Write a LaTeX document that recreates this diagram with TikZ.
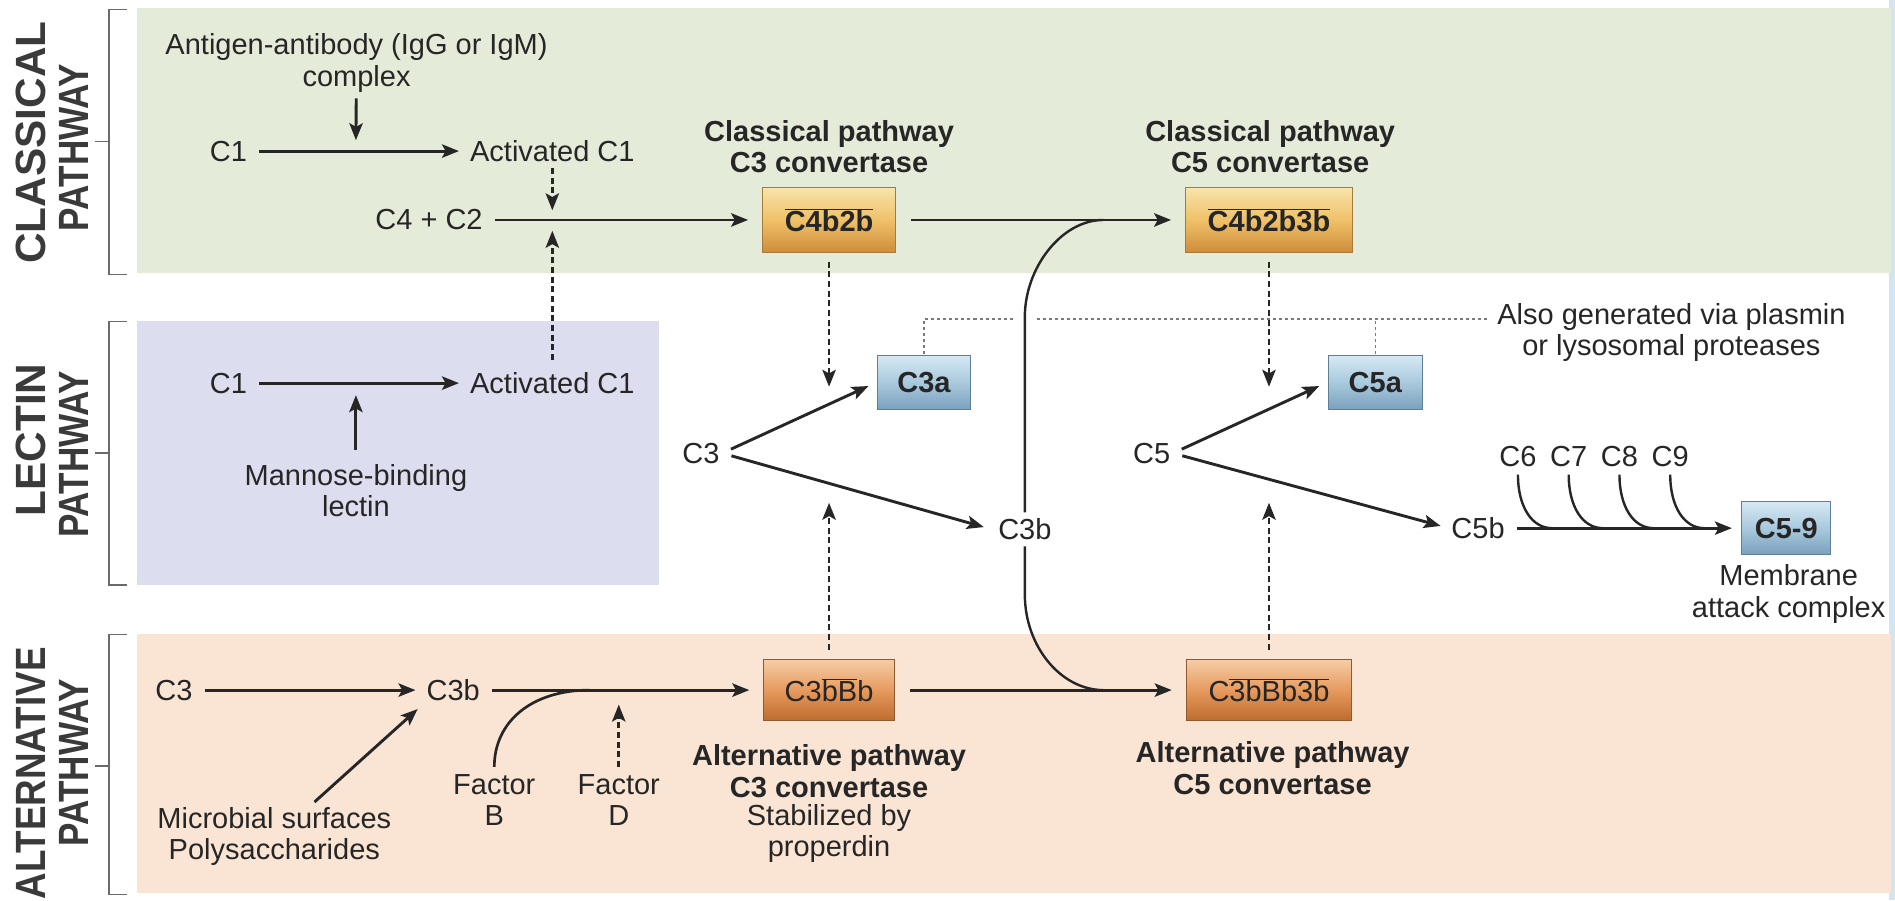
\documentclass[tikz,border=0pt]{standalone}
\usepackage{fontspec}
\usepackage{graphicx}
\setmainfont{Liberation Sans}
\usetikzlibrary{arrows.meta}
\definecolor{ink}{HTML}{262626}
\definecolor{plabc}{HTML}{3A3A3A}
\definecolor{bgG}{HTML}{E4EBD8}
\definecolor{bgL}{HTML}{DCDDEE}
\definecolor{bgA}{HTML}{FAE5D4}
\definecolor{edgec}{HTML}{D3E5F1}
\definecolor{gT}{HTML}{F8E3AA}
\definecolor{gM}{HTML}{EFC168}
\definecolor{gB}{HTML}{CF8D3B}
\definecolor{gD}{HTML}{A57A3A}
\definecolor{oT}{HTML}{F6CDA6}
\definecolor{oM}{HTML}{E69A5E}
\definecolor{oB}{HTML}{BE6A2D}
\definecolor{oD}{HTML}{8E5A32}
\definecolor{bT}{HTML}{D6E9F4}
\definecolor{bM}{HTML}{A9C9DD}
\definecolor{bB}{HTML}{7AA0BD}
\definecolor{bD}{HTML}{5F7F96}
\definecolor{brk}{HTML}{6A6A6A}
\definecolor{dotc}{HTML}{7A7A7A}
\newcommand\fs{\fontsize{24}{26}\selectfont}
\newcommand\fsP{\fontsize{35}{38}\selectfont\bfseries}
\newcommand\ovl[1]{$\overline{\hbox{#1}}$}
\begin{document}
\begin{tikzpicture}[x=1pt,y=-1pt,
  tx/.style={font=\fs, text=ink, inner sep=2pt, align=center},
  btx/.style={tx, font=\fs\bfseries},
  plab/.style={font=\fsP, text=plabc, rotate=90, inner sep=0pt},
  arr/.style={draw=ink, line width=2.4pt, -{Stealth[length=14pt,width=11pt,inset=3pt]}, shorten <=8pt, shorten >=7pt},
  darr/.style={arr, line width=2.2pt, dash pattern=on 5pt off 3pt},
  tocoord/.style={shorten >=0pt},
  merge/.style={draw=ink, line width=2pt},
  dotl/.style={draw=dotc, line width=1pt, dash pattern=on 2.5pt off 2.5pt},
  brack/.style={draw=brk, line width=1.3pt},
  cbox/.style={font=\fs, text=ink, inner sep=0pt, line width=0.8pt},
  gbox/.style={cbox, draw=gD, top color=gT, bottom color=gB, middle color=gM, minimum height=53pt, outer sep=5pt, font=\fs\bfseries},
  obox/.style={cbox, draw=oD, top color=oT, bottom color=oB, middle color=oM, minimum height=51pt, outer sep=5pt},
  blbox/.style={cbox, draw=bD, top color=bT, bottom color=bB, middle color=bM, minimum height=45pt, outer sep=1pt, font=\fs\bfseries},
]
\useasboundingbox (0,0) rectangle (1568,745);
% backgrounds
\fill[edgec] (1563,0) rectangle (1568,745);
\fill[bgG] (113,7) rectangle (1565,226);
\fill[bgL] (113,266) rectangle (545,484);
\fill[bgA] (113,525) rectangle (1565,739);
% brackets
\draw[brack] (105,8) -- (90,8) -- (90,227) -- (105,227);
\draw[brack] (79,117) -- (90,117);
\draw[brack] (105,266) -- (90,266) -- (90,484) -- (105,484);
\draw[brack] (79,375) -- (90,375);
\draw[brack] (105,525) -- (90,525) -- (90,740) -- (105,740);
\draw[brack] (79,634) -- (90,634);
% pathway labels
\node[plab] (lc1) at (26,118) {CLASSICAL};
\node[plab] (lc2) at (61,122) {\scalebox{0.83}[1]{PATHWAY}};
\node[plab] (ll1) at (26,364) {LECTIN};
\node[plab] (ll2) at (61,376) {\scalebox{0.83}[1]{PATHWAY}};
\node[plab] (la1) at (26,640) {\scalebox{0.87}[1]{ALTERNATIVE}};
\node[plab] (la2) at (61,631) {\scalebox{0.83}[1]{PATHWAY}};
% classical pathway
\node[tx] (ag) at (295,52) {Antigen-antibody (IgG or IgM)\\complex};
\coordinate (agt) at (294.5,116);
\node[tx] (c1a) at (189,125) {C1};
\node[tx] (act1) at (457,125) {Activated C1};
\draw[arr] (c1a) -- (act1);
\draw[arr, tocoord, shorten <=3pt] (ag) -- (agt);
\node[tx] (c4c2) at (355,182) {C4 + C2};
\node[gbox, minimum width=110pt] (cc3) at (686,182) {\ovl{C4b2b}};
\draw[arr] (c4c2) -- (cc3);
\coordinate (dtip1) at (457,174);
\draw[darr, tocoord, shorten <=3pt] (act1.south) -- (dtip1);
\node[btx] (cc3t) at (686,121.5) {Classical pathway\\C3 convertase};
\node[gbox, minimum width=138pt] (cc5) at (1050,182) {\ovl{C4b2b3b}};
\node[btx] (cc5t) at (1051,121.5) {Classical pathway\\C5 convertase};
\draw[arr] (cc3) -- (cc5);
\coordinate (d3a) at (686,320);
\coordinate (d5a) at (1050,320);
\draw[darr, tocoord, shorten <=3pt] (cc3.south) -- (d3a);
\draw[darr, tocoord, shorten <=3pt] (cc5.south) -- (d5a);
% lectin pathway
\node[tx] (c1l) at (189,317) {C1};
\node[tx] (act1l) at (457,317) {Activated C1};
\draw[arr] (c1l) -- (act1l);
\coordinate (dtip2) at (457,191);
\draw[darr, tocoord] (act1l.north) -- (dtip2);
\node[tx] (mbl) at (294.5,406) {Mannose-binding\\lectin};
\coordinate (mblt) at (294.5,327);
\draw[arr, tocoord, shorten <=10pt] (mbl.north) -- (mblt);
% middle row
\node[tx] (c3m) at (580,375) {C3};
\node[blbox, minimum width=77pt] (c3a) at (764.5,316.5) {C3a};
\node[tx, inner sep=5pt] (c3bm) at (848,438) {C3b};
\draw[arr] (c3m.east) -- (c3a.west);
\draw[arr] (c3m.east) -- (c3bm.west);
\node[tx] (c5m) at (953,375) {C5};
\node[blbox, minimum width=78pt] (c5a) at (1138,316.5) {C5a};
\node[tx] (c5b) at (1223,437) {C5b};
\draw[arr] (c5m.east) -- (c5a.west);
\draw[arr] (c5m.east) -- (c5b.west);
\node[blbox, minimum width=74pt, minimum height=44pt] (c59) at (1478,437) {C5-9};
\draw[arr] (c5b) -- (c59);
\node[tx] (mac) at (1480,491.5) {Membrane\\attack complex};
\node[tx] (c6) at (1256,378) {C6};
\node[tx] (c7) at (1298,378) {C7};
\node[tx] (c8) at (1340,378) {C8};
\node[tx] (c9) at (1382,378) {C9};
\coordinate (j6) at (1284,437);
\coordinate (j7) at (1326,437);
\coordinate (j8) at (1368,437);
\coordinate (j9) at (1410,437);
\draw[merge, shorten <=4pt] (c6.south) .. controls (1256,420) and (1268,437) .. (j6);
\draw[merge, shorten <=4pt] (c7.south) .. controls (1298,420) and (1310,437) .. (j7);
\draw[merge, shorten <=4pt] (c8.south) .. controls (1340,420) and (1352,437) .. (j8);
\draw[merge, shorten <=4pt] (c9.south) .. controls (1382,420) and (1394,437) .. (j9);
% dotted note
\coordinate (dj1) at (764.5,264);
\coordinate (gl) at (839,264);
\coordinate (gr) at (858,264);
\coordinate (dj2) at (1138,264);
\coordinate (dend) at (1231,264);
\draw[dotl] (c3a.north) -- (dj1) -- (gl);
\draw[dotl] (gr) -- (dend);
\draw[dotl] (c5a.north) -- (dj2);
\node[tx] (also) at (1383,275) {Also generated via plasmin\\or lysosomal proteases};
% alternative pathway
\node[tx] (c3alt) at (144,571) {C3};
\node[tx] (c3balt) at (375,571) {C3b};
\draw[arr] (c3alt) -- (c3balt);
\node[tx] (mic) at (227,692) {Microbial surfaces\\Polysaccharides};
\draw[arr, shorten <=3pt] ([xshift=31pt]mic.north) -- (c3balt.south west);
\node[obox, minimum width=108pt] (cab) at (686,571) {C3\ovl{bB}b};
\draw[arr] (c3balt) -- (cab);
\node[tx] (fb) at (409,662) {Factor\\B};
\node[tx] (fd) at (512,662) {Factor\\D};
\coordinate (fbj) at (488,571);
\draw[merge, line width=2.2pt, shorten <=4pt] (fb.north) .. controls (409,597) and (440,571) .. (fbj);
\coordinate (fdt) at (512,583);
\draw[darr, tocoord, shorten <=4pt] (fd.north) -- (fdt);
\node[obox, minimum width=137pt] (cab5) at (1050,571) {C\ovl{3bBb3b}};
\draw[arr] (cab) -- (cab5);
\node[btx] (cabt) at (686,638) {Alternative pathway\\C3 convertase};
\node[tx] (stab) at (686,689.5) {Stabilized by\\properdin};
\node[btx] (cab5t) at (1053,635.5) {Alternative pathway\\C5 convertase};
\coordinate (u3) at (686,416);
\coordinate (u5) at (1050,416);
\draw[darr, tocoord, shorten <=3pt] (cab.north) -- (u3);
\draw[darr, tocoord, shorten <=3pt] (cab5.north) -- (u5);
% C3b merging into both C5 convertases
\coordinate (jt) at (913,182);
\coordinate (jb) at (913,571);
\draw[merge] (c3bm.north) -- (848,262) .. controls (848,222) and (878,182) .. (jt);
\draw[merge] (c3bm.south) -- (848,492) .. controls (848,535) and (878,571) .. (jb);
\end{tikzpicture}
\end{document}
